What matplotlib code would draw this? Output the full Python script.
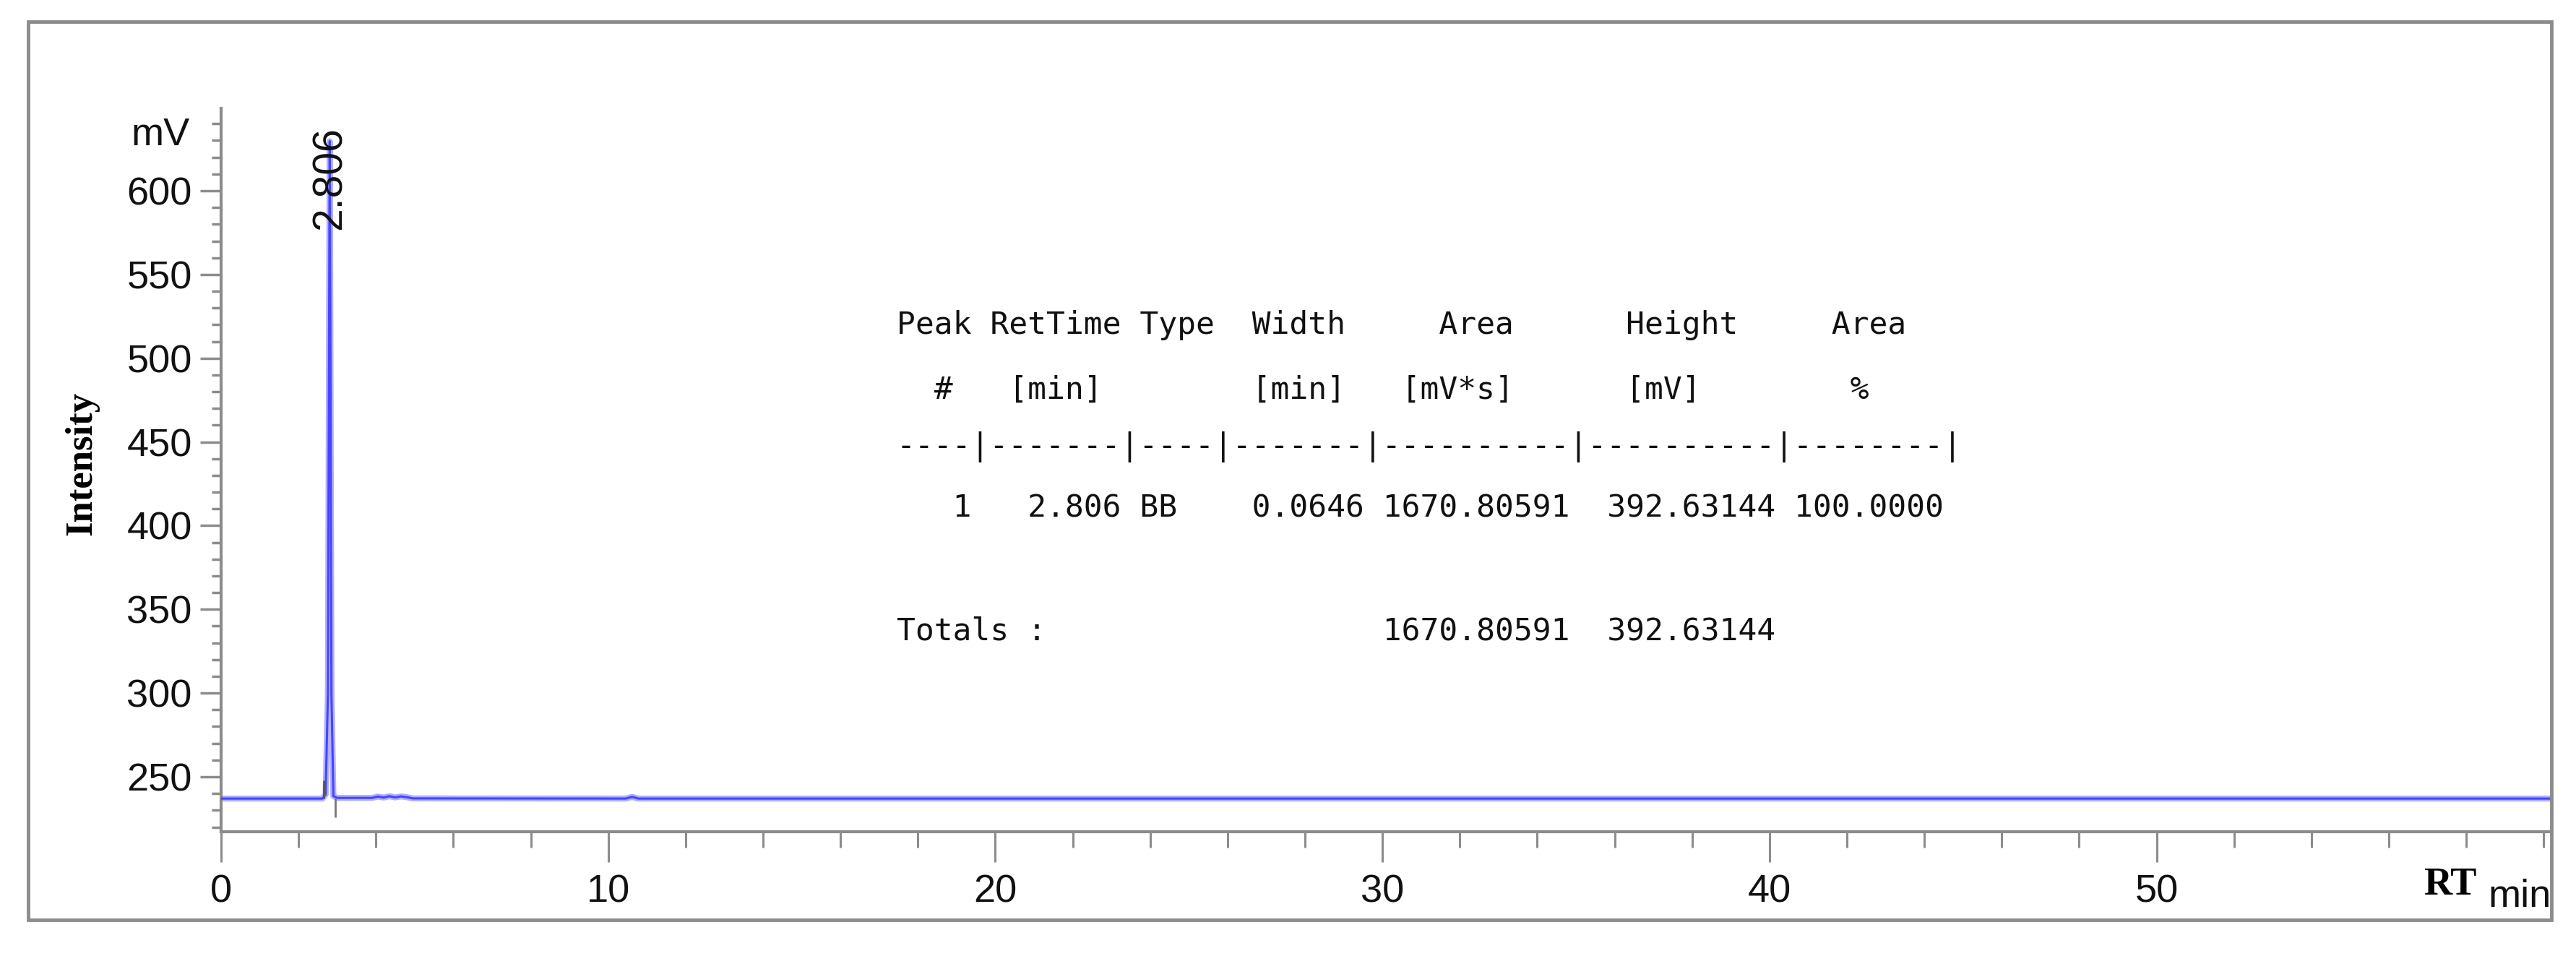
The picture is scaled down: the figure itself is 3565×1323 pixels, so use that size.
import matplotlib
matplotlib.use('Agg')
import matplotlib.pyplot as plt
from matplotlib import font_manager
from matplotlib.patches import Rectangle
from matplotlib.ticker import MultipleLocator

# chromatogram trace (RT in min, signal in mV)
rt_min = [0.0, 2.62, 2.70, 2.76, 2.79, 2.806, 2.82, 2.85, 2.90, 3.00, 3.90, 4.05, 4.20, 4.35,
          4.50, 4.65, 4.80, 4.95, 10.45, 10.62, 10.78, 60.2]
signal_mv = [237.0, 237.0, 239.5, 300.0, 520.0, 629.6, 540.0, 300.0, 238.5, 237.4, 237.4, 238.2,
             237.6, 238.4, 237.7, 238.3, 237.8, 237.1, 237.0, 238.0, 237.0, 237.0]

peak_rt = 2.806
integ_marks = [2.65, 2.95]  # integration start / end markers
baseline_mv = 237.0

# integration report
peak_no = 1
peak_type = 'BB'
peak_width = 0.0646
peak_area = 1670.80591
peak_height = 392.63144
area_pct = 100.0

x_ticks = [0, 10, 20, 30, 40, 50]
y_ticks = [250, 300, 350, 400, 450, 500, 550, 600]

W, H = 3565, 1323
fx = lambda x: x / W  # pixel -> figure fraction
fy = lambda y: 1 - y / H

names = {f.name for f in font_manager.fontManager.ttflist}
if 'Liberation Sans Narrow' in names:
    narrow, tick_size = 'Liberation Sans Narrow', 45
else:
    narrow, tick_size = 'Liberation Sans', 39

fig = plt.figure(figsize=(W / 100, H / 100), dpi=100)
ax = fig.add_axes([fx(306), fy(1151), (3531 - 306) / W, (1151 - 150) / H])

# trace: light halo + blue core
ax.plot(rt_min, signal_mv, color='#b0b0ff', lw=6, solid_joinstyle='round', zorder=2)
ax.plot(rt_min, signal_mv, color='#4545ff', lw=2.2, zorder=3)
ax.vlines(integ_marks[0], baseline_mv, baseline_mv + 11, color='#555555', lw=2, zorder=4)
ax.vlines(integ_marks[1], baseline_mv - 11, baseline_mv, color='#777777', lw=2, zorder=4)

ax.text(peak_rt, 576.5, f'{peak_rt:.3f}', rotation=90, ha='center', va='bottom',
        fontsize=41, family='Liberation Sans', color='#111111', zorder=5)

ax.set_xlim(0, 60.2)
ax.set_ylim(217.2, 649.2)
ax.set_xticks(x_ticks)
ax.set_yticks(y_ticks)
ax.xaxis.set_minor_locator(MultipleLocator(2))
ax.yaxis.set_minor_locator(MultipleLocator(10))

for s in ['top', 'right']:
    ax.spines[s].set_visible(False)
for s in ['left', 'bottom']:
    ax.spines[s].set_color('#8c8c8c')
    ax.spines[s].set_linewidth(3)

ax.tick_params(axis='y', which='major', direction='out', length=21, width=2.5, color='#8c8c8c', pad=8)
ax.tick_params(axis='y', which='minor', direction='out', length=9.5, width=2.5, color='#8c8c8c')
ax.tick_params(axis='x', which='major', direction='out', length=30, width=2.2, color='#8c8c8c', pad=12)
ax.tick_params(axis='x', which='minor', direction='out', length=16, width=2.2, color='#8c8c8c')
for lab in ax.get_xticklabels() + ax.get_yticklabels():
    lab.set_fontfamily(narrow)
    lab.set_fontsize(tick_size)
    lab.set_color('#111111')

# axis labels placed like the instrument printout
fig.text(fx(263), fy(187), 'mV', ha='right', va='center', family=narrow, fontsize=tick_size, color='#111111')
fig.text(fx(113), fy(641), 'Intensity', rotation=90, ha='center', va='center',
         family='Liberation Serif', fontweight='bold', fontsize=38, color='black')
fig.text(fx(3391), fy(1225), 'RT', ha='center', va='center',
         family='Liberation Serif', fontweight='bold', fontsize=39, color='black')
fig.text(fx(3531), fy(1255), 'min', ha='right', va='baseline', family=narrow, fontsize=tick_size, color='#111111')

# integration report table
hdr1 = 'Peak RetTime Type  Width     Area      Height     Area'
hdr2 = '  #   [min]        [min]   [mV*s]      [mV]        %'
sep = '----|-------|----|-------|----------|----------|--------|'
row = f'{peak_no:>4} {peak_rt:>7.3f} {peak_type:<4} {peak_width:>7.4f} {peak_area:>10.5f} {peak_height:>10.5f} {area_pct:>8.4f}'
tot = f"{'Totals :':<26}{peak_area:>10.5f} {peak_height:>10.5f}"
for line, y in zip([hdr1, hdr2, sep, row, tot], [450, 540, 619, 704, 873]):
    fig.text(fx(1241), fy(y), line, ha='left', va='center', family='DejaVu Sans Mono',
             fontsize=31, color='#111111')

# grey frame around the whole printout
fig.patches.append(Rectangle((fx(39), fy(1273)), fx(3531) - fx(39), fy(30) - fy(1273),
                             transform=fig.transFigure, fill=False, edgecolor='#8c8c8c', lw=3.5))

fig.savefig('out.png', dpi=100)
